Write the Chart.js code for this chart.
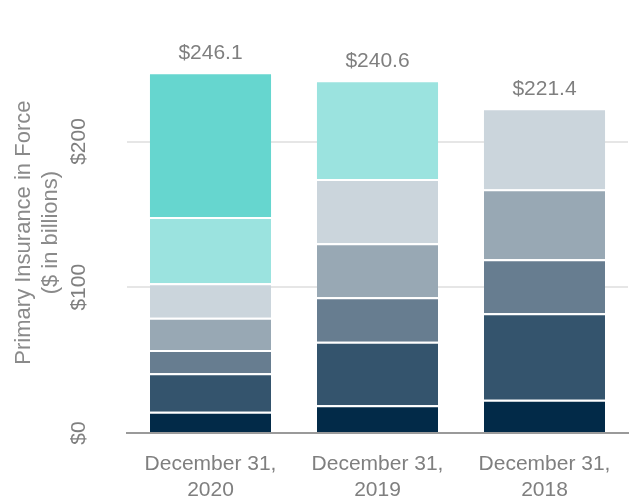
<!DOCTYPE html>
<html><head><meta charset="utf-8">
<script src="https://cdn.jsdelivr.net/npm/chart.js@4.4.1/dist/chart.umd.min.js"></script>
<style>html,body{margin:0;padding:0;background:#fff}</style>
</head><body>
<canvas id="c" width="638" height="500" style="display:block;width:638px;height:500px"></canvas>
<script>
// ---- data ----
const categories = [['December 31,', '2020'], ['December 31,', '2019'], ['December 31,', '2018']];
const seriesNames = ['2014 and prior', '2015', '2016', '2017', '2018', '2019', '2020'];
const v2014 = [14.6, 19.0, 22.8];
const v2015 = [26.4, 43.6, 59.3];
const v2016 = [15.9, 30.5, 37.1];
const v2017 = [22.2, 37.1, 48.0];
const v2018 = [23.6, 44.1, 54.2];
const v2019 = [45.5, 66.3, null];
const v2020 = [97.9, null, null];
const totals = [246.1, 240.6, 221.4];
const yTickValues = [0, 100, 200];
const seriesColors = ['#022a48', '#34546d', '#677d90', '#98a8b4', '#cbd5dc', '#9be3df', '#66d6cf'];

const seriesValues = [v2014, v2015, v2016, v2017, v2018, v2019, v2020];
const FONT = "'Liberation Sans', Arial, sans-serif";
const TXT = '#7f7f7f';

function isTopOfStack(k, i) {
  for (let j = k + 1; j < seriesValues.length; j++) {
    if (seriesValues[j][i] != null && seriesValues[j][i] !== 0) return false;
  }
  return true;
}

const totalLabels = {
  id: 'totalLabels',
  afterDatasetsDraw(chart) {
    const ctx = chart.ctx, xs = chart.scales.x, ys = chart.scales.y;
    ctx.save();
    ctx.font = '21px ' + FONT;
    ctx.fillStyle = TXT;
    ctx.textAlign = 'center';
    ctx.textBaseline = 'middle';
    totals.forEach((t, i) => {
      ctx.fillText('$' + t.toFixed(1), xs.getPixelForValue(i), ys.getPixelForValue(t) - 21.6);
    });
    ctx.restore();
  }
};

new Chart(document.getElementById('c'), {
  type: 'bar',
  data: {
    labels: categories,
    datasets: seriesValues.map((vals, k) => ({
      label: seriesNames[k],
      data: vals,
      backgroundColor: seriesColors[k],
      borderColor: '#ffffff',
      borderWidth: c => ({top: isTopOfStack(k, c.dataIndex) ? 0 : 2, bottom: 0, left: 0, right: 0}),
      borderSkipped: false,
      categoryPercentage: 1,
      barPercentage: 0.725
    }))
  },
  options: {
    responsive: false,
    animation: false,
    devicePixelRatio: 1,
    layout: {padding: {top: 32.2, right: 10, left: 0, bottom: 0}},
    plugins: {legend: {display: false}, tooltip: {enabled: false}},
    scales: {
      x: {
        stacked: true,
        grid: {color: 'rgba(0,0,0,0)', drawTicks: false},
        border: {display: true, color: '#9a9a9a', width: 2},
        ticks: {color: TXT, font: {family: FONT, size: 21, lineHeight: 1.25}, padding: 18, maxRotation: 0, minRotation: 0},
        afterFit: s => { s.height = 67; s.paddingLeft = 0; s.paddingRight = 0; }
      },
      y: {
        stacked: true,
        min: 0,
        max: 275,
        afterBuildTicks: s => { s.ticks = yTickValues.map(v => ({value: v})); },
        grid: {color: c => (c.tick && c.tick.value === 0) ? 'rgba(0,0,0,0)' : '#e6e6e6', lineWidth: 2, drawTicks: false},
        border: {display: false},
        ticks: {
          color: TXT, font: {family: FONT, size: 21}, padding: 24,
          minRotation: 90, maxRotation: 90, crossAlign: 'center',
          callback: v => '$' + v
        },
        title: {
          display: true,
          text: ['Primary Insurance in Force', '($ in billions)'],
          color: '#8a8a8a',
          font: {family: FONT, size: 22, lineHeight: 1.25},
          padding: {top: 10, bottom: 0}
        },
        afterFit: s => { s.width = 127; s.paddingTop = 0; s.paddingBottom = 0; }
      }
    }
  },
  plugins: [totalLabels]
});
</script>
</body></html>
